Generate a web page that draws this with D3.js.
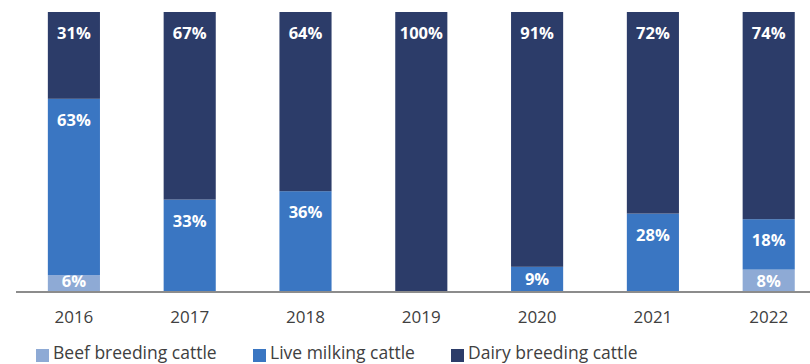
<!DOCTYPE html>
<html lang="en">
<head>
  <meta charset="UTF-8">
  <script src="https://d3js.org/d3.v7.min.js"></script>
  <title>Cattle shares</title>
  <style>
    body { margin: 0; background: #fff; }
    svg { display: block; }
  </style>
</head>
<body>
  <svg id="chart" width="810" height="364"></svg>
  <script>
    // data (percent)
    var years = ["2016", "2017", "2018", "2019", "2020", "2021", "2022"];
    var seriesNames = ["Beef breeding cattle", "Live milking cattle", "Dairy breeding cattle"];
    var beef = [6, 0, 0, 0, 0, 0, 8];
    var live = [63, 33, 36, 0, 9, 28, 18];
    var dairy = [31, 67, 64, 100, 91, 72, 74];
    var colors = ["#8eaad5", "#3a76c2", "#2c3c69"];

    var svg = d3.select("#chart");

    var rows = years.map(function (y, i) {
      return { year: y, beef: beef[i], live: live[i], dairy: dairy[i] };
    });
    var keys = ["beef", "live", "dairy"];
    var stack = d3.stack().keys(keys)(rows);

    // x band: centres at ~74 and step ~115.8
    var x = d3.scaleBand()
      .domain(years)
      .range([16, 16 + 115.8 * 7])
      .paddingInner(0.55)
      .paddingOuter(0.275);

    var y = d3.scaleLinear().domain([0, 100]).range([292, 12]);

    var font = "'Open Sans', sans-serif";

    // bars
    var layers = svg.append("g")
      .selectAll("g")
      .data(stack)
      .enter()
      .append("g")
        .attr("fill", function (d, i) { return colors[i]; });

    layers.selectAll("rect")
      .data(function (d) { return d; })
      .enter()
      .append("rect")
        .attr("x", function (d) { return x(d.data.year); })
        .attr("width", x.bandwidth())
        .attr("y", function (d) { return y(d[1]); })
        .attr("height", function (d) { return y(d[0]) - y(d[1]); });

    // value labels
    layers.selectAll("text")
      .data(function (d) { return d.filter(function (p) { return p[1] - p[0] > 0; }); })
      .enter()
      .append("text")
        .attr("x", function (d) { return x(d.data.year) + x.bandwidth() / 2; })
        .attr("y", function (d) {
          var top = y(d[1]), bot = y(d[0]);
          return Math.min(top + 21, (top + bot) / 2, bot - 11);
        })
        .attr("dy", "0.36em")
        .attr("text-anchor", "middle")
        .attr("fill", "#fff")
        .style("font-family", font)
        .style("font-weight", "bold")
        .style("font-size", "16.5px")
        .text(function (d) { return (d[1] - d[0]) + "%"; });

    // axis
    var xAxis = svg.append("g")
      .attr("transform", "translate(0,292)")
      .call(d3.axisBottom(x).tickSize(0).tickPadding(19));
    xAxis.select(".domain")
      .attr("d", "M16,0H810")
      .attr("stroke", "#8c8c8c")
      .attr("stroke-width", 2);
    xAxis.selectAll("text")
      .attr("fill", "#404040")
      .style("font-family", font)
      .style("font-size", "17px");

    // legend
    var legendX = [36, 253, 451];
    var legend = svg.append("g")
      .selectAll("g")
      .data(seriesNames)
      .enter()
      .append("g")
        .attr("transform", function (d, i) { return "translate(" + legendX[i] + ",349)"; });
    legend.append("rect")
      .attr("width", 13)
      .attr("height", 13)
      .attr("fill", function (d, i) { return colors[i]; });
    legend.append("text")
      .attr("x", 17)
      .attr("y", 10)
      .attr("fill", "#404040")
      .style("font-family", font)
      .style("font-size", "17.5px")
      .text(function (d) { return d; });
  </script>
</body>
</html>
